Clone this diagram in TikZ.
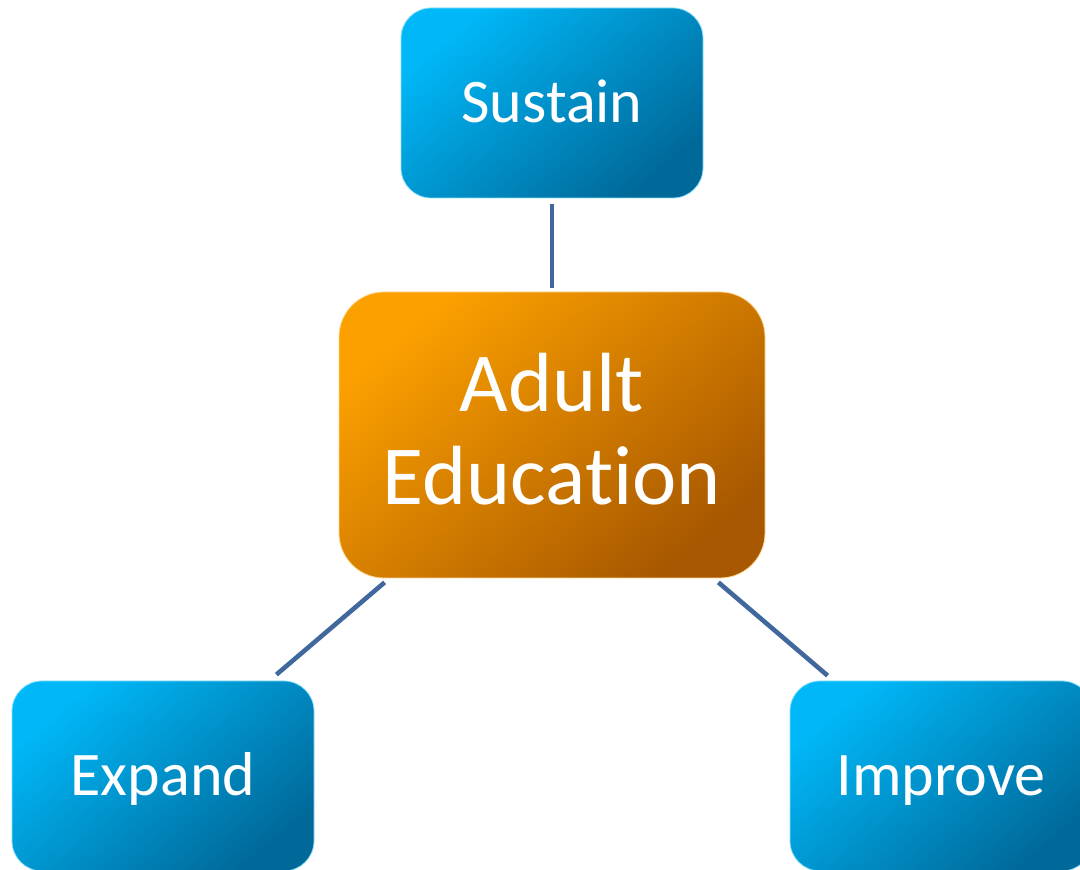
\documentclass[tikz,border=0pt]{standalone}
\usepackage{fontspec}
\setmainfont{Carlito}[Ligatures={NoCommon}]
\usetikzlibrary{calc}
\definecolor{blueA}{HTML}{00B8F8}
\definecolor{blueM}{HTML}{00A6E2}
\definecolor{blueB}{HTML}{00699A}
\definecolor{orA}{HTML}{FCA000}
\definecolor{orM}{HTML}{EC8C00}
\definecolor{orB}{HTML}{A85800}
\definecolor{linkc}{HTML}{41689C}
\begin{document}
\begin{tikzpicture}[x=1pt,y=1pt,
  leaf/.style={rectangle, rounded corners=30pt, minimum width=302pt, minimum height=190pt,
    inner sep=0pt, top color=blueA, middle color=blueM, bottom color=blueB, shading angle=40,
    text=white, font=\fontsize{62}{74}\selectfont, text height=40pt, text depth=0pt,
    draw=blueA!45!white, line width=0.8pt},
  hub/.style={rectangle, rounded corners=45pt, minimum width=426pt, minimum height=286pt,
    inner sep=0pt, top color=orA, middle color=orM, bottom color=orB, shading angle=40,
    text=white, font=\fontsize{84}{93}\selectfont, align=center, text height=147pt, text depth=7pt,
    draw=orA!45!white, line width=0.8pt},
  link/.style={draw=linkc, line width=4.6pt}]
\useasboundingbox (0,0) rectangle (1080,870);
\node[hub] (adult) at (552,435) {Adult\\Education};
\node[leaf] (sustain) at (552,767) {Sustain};
\node[leaf] (expand) at (163,94) {Expand};
\node[leaf] (improve) at (941,94) {Improve};
\draw[link] ($(sustain.south)+(0,-6)$) -- ($(adult.north)+(0,4)$);
\draw[link] ($(adult.south west)+(46,-4)$) -- ($(expand.north east)+(-38,6)$);
\draw[link] ($(adult.south east)+(-47,-4)$) -- ($(improve.north west)+(38,5)$);
\end{tikzpicture}
\end{document}
